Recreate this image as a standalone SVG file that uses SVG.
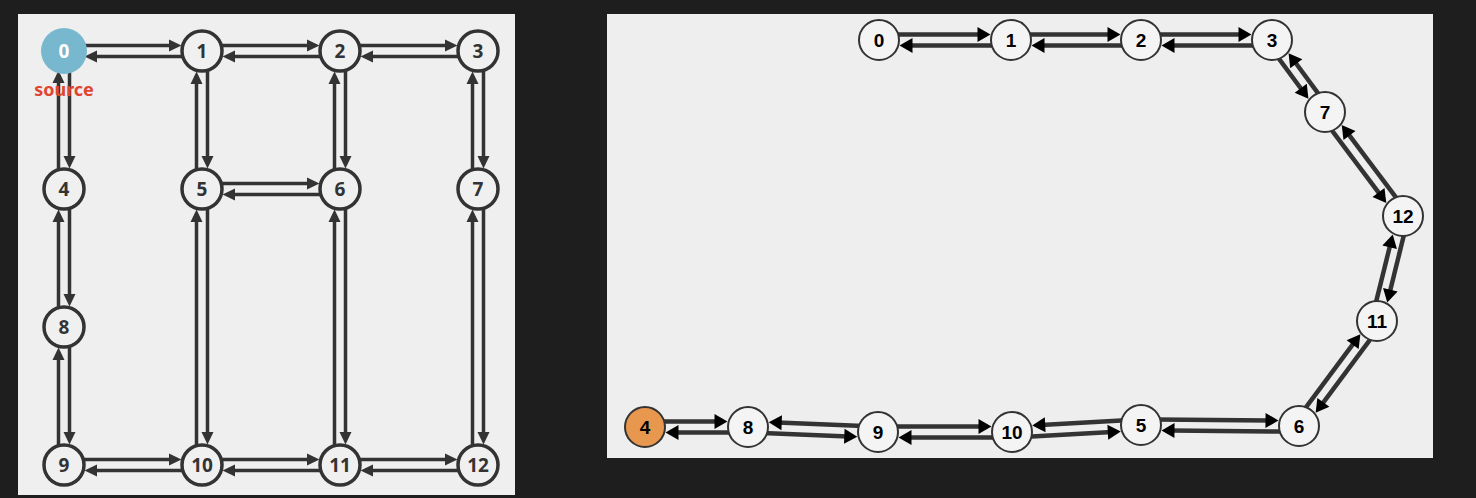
<svg xmlns="http://www.w3.org/2000/svg" width="1476" height="498" viewBox="0 0 1476 498">
<defs>
<marker id="al" markerUnits="userSpaceOnUse" markerWidth="14" markerHeight="12" refX="3" refY="6" orient="auto" overflow="visible"><path d="M0,0 L12.5,6 L0,12 z" fill="#333"/></marker>
<marker id="ar" markerUnits="userSpaceOnUse" markerWidth="15" markerHeight="15" refX="4" refY="7.5" orient="auto" overflow="visible"><path d="M0,0 L13,7.5 L0,15 z" fill="#000"/></marker>
</defs>
<style>
.le{fill:none;stroke:#333;stroke-width:3.5;marker-end:url(#al)}
.re{fill:none;stroke:#333;stroke-width:4.5;marker-end:url(#ar)}
.ln{fill:#f0f0f0;stroke:#333;stroke-width:3.5}
.lt{font-family:"Noto Sans","DejaVu Sans",sans-serif;font-weight:bold;font-size:19px;fill:#333;text-anchor:middle}
.rn{fill:#f4f4f4;stroke:#333;stroke-width:2}
.rt{font-family:"Liberation Sans",Arial,sans-serif;font-weight:bold;font-size:19px;fill:#000;text-anchor:middle}
</style>
<rect width="1476" height="498" fill="#1e1e1e"/>
<rect x="18" y="14" width="497" height="481" fill="#efefef"/>
<rect x="607" y="14" width="826" height="444" fill="#eeeeee"/>
<g id="left-edges">
<path class="le" d="M79,45.5 H172"/><path class="le" d="M187,56.5 H94"/>
<path class="le" d="M217,45.5 H310"/><path class="le" d="M325,56.5 H232"/>
<path class="le" d="M355,45.5 H448"/><path class="le" d="M463,56.5 H370"/>
<path class="le" d="M217,183.5 H310"/><path class="le" d="M325,194.5 H232"/>
<path class="le" d="M79,459.5 H172"/><path class="le" d="M187,470.5 H94"/>
<path class="le" d="M217,459.5 H310"/><path class="le" d="M325,470.5 H232"/>
<path class="le" d="M355,459.5 H448"/><path class="le" d="M463,470.5 H370"/>
<path class="le" d="M69.5,66 V159"/><path class="le" d="M58.5,174 V80"/>
<path class="le" d="M69.5,204 V297"/><path class="le" d="M58.5,312 V219"/>
<path class="le" d="M69.5,342 V435"/><path class="le" d="M58.5,450 V357"/>
<path class="le" d="M207.5,66 V159"/><path class="le" d="M196.5,174 V81"/>
<path class="le" d="M207.5,204 V435"/><path class="le" d="M196.5,450 V219"/>
<path class="le" d="M345.5,66 V159"/><path class="le" d="M334.5,174 V81"/>
<path class="le" d="M345.5,204 V435"/><path class="le" d="M334.5,450 V219"/>
<path class="le" d="M483.5,66 V159"/><path class="le" d="M472.5,174 V81"/>
<path class="le" d="M483.5,204 V435"/><path class="le" d="M472.5,450 V219"/>
</g>
<g id="l0"><circle cx="64" cy="51" r="23" fill="#77b8cf"/><text class="lt" x="64" y="58" style="fill:#fff">0</text><text x="64" y="96" text-anchor="middle" font-family="Noto Sans, DejaVu Sans, sans-serif" font-weight="bold" font-size="18" fill="#e0452f">source</text></g>
<g id="l1"><circle class="ln" cx="202" cy="51" r="20"/><text class="lt" x="202" y="58">1</text></g>
<g id="l2"><circle class="ln" cx="340" cy="51" r="20"/><text class="lt" x="340" y="58">2</text></g>
<g id="l3"><circle class="ln" cx="478" cy="51" r="20"/><text class="lt" x="478" y="58">3</text></g>
<g id="l4"><circle class="ln" cx="64" cy="189" r="20"/><text class="lt" x="64" y="196">4</text></g>
<g id="l5"><circle class="ln" cx="202" cy="189" r="20"/><text class="lt" x="202" y="196">5</text></g>
<g id="l6"><circle class="ln" cx="340" cy="189" r="20"/><text class="lt" x="340" y="196">6</text></g>
<g id="l7"><circle class="ln" cx="478" cy="189" r="20"/><text class="lt" x="478" y="196">7</text></g>
<g id="l8"><circle class="ln" cx="64" cy="327" r="20"/><text class="lt" x="64" y="334">8</text></g>
<g id="l9"><circle class="ln" cx="64" cy="465" r="20"/><text class="lt" x="64" y="472">9</text></g>
<g id="l10"><circle class="ln" cx="202" cy="465" r="20"/><text class="lt" x="202" y="472">10</text></g>
<g id="l11"><circle class="ln" cx="340" cy="465" r="20"/><text class="lt" x="340" y="472">11</text></g>
<g id="l12"><circle class="ln" cx="478" cy="465" r="20"/><text class="lt" x="478" y="472">12</text></g>
<g id="right-edges">
<path class="re" d="M894,34.5 L981.5,34.5"/><path class="re" d="M996,45.5 L908.5,45.5"/>
<path class="re" d="M1026,34.5 L1111.5,34.5"/><path class="re" d="M1126,45.5 L1040.5,45.5"/>
<path class="re" d="M1156,34.5 L1242.5,34.5"/><path class="re" d="M1257,45.5 L1170.5,45.5"/>
<path class="re" d="M1276.5,55.3 L1303.1,91.5"/><path class="re" d="M1320.5,96.7 L1293.9,60.5"/>
<path class="re" d="M1329.6,127.3 L1380.9,195.7"/><path class="re" d="M1398.4,200.7 L1347.1,132.3"/>
<path class="re" d="M1404.7,231.9 L1389.4,293.7"/><path class="re" d="M1375.3,305.1 L1390.6,243.3"/>
<path class="re" d="M1372.5,336.3 L1321,405.6"/><path class="re" d="M1303.5,410.7 L1355,341.4"/>
<path class="re" d="M1156,419.5 L1269.5,420.5"/><path class="re" d="M1284,431.5 L1170.5,430.5"/>
<path class="re" d="M1125.7,420.3 L1041.2,424.9"/><path class="re" d="M1027.3,436.7 L1111.8,432.1"/>
<path class="re" d="M893,426.5 L982.5,426.5"/><path class="re" d="M997,437.5 L907.5,437.5"/>
<path class="re" d="M762.8,433.1 L848.3,436.4"/><path class="re" d="M863.2,425.9 L777.7,422.6"/>
<path class="re" d="M660,421.5 L718.5,421.5"/><path class="re" d="M733,432.5 L674.5,432.5"/>
</g>
<g id="r0"><circle class="rn" cx="879" cy="40" r="20"/><text class="rt" x="879" y="47">0</text></g>
<g id="r1"><circle class="rn" cx="1011" cy="40" r="20"/><text class="rt" x="1011" y="47">1</text></g>
<g id="r2"><circle class="rn" cx="1141" cy="40" r="20"/><text class="rt" x="1141" y="47">2</text></g>
<g id="r3"><circle class="rn" cx="1272" cy="40" r="20"/><text class="rt" x="1272" y="47">3</text></g>
<g id="r7"><circle class="rn" cx="1325" cy="112" r="20"/><text class="rt" x="1325" y="119">7</text></g>
<g id="r12"><circle class="rn" cx="1403" cy="216" r="20"/><text class="rt" x="1403" y="223">12</text></g>
<g id="r11"><circle class="rn" cx="1377" cy="321" r="20"/><text class="rt" x="1377" y="328">11</text></g>
<g id="r6"><circle class="rn" cx="1299" cy="426" r="20"/><text class="rt" x="1299" y="433">6</text></g>
<g id="r5"><circle class="rn" cx="1141" cy="425" r="20"/><text class="rt" x="1141" y="432">5</text></g>
<g id="r10"><circle class="rn" cx="1012" cy="432" r="20"/><text class="rt" x="1012" y="439">10</text></g>
<g id="r9"><circle class="rn" cx="878" cy="432" r="20"/><text class="rt" x="878" y="439">9</text></g>
<g id="r8"><circle class="rn" cx="748" cy="427" r="20"/><text class="rt" x="748" y="434">8</text></g>
<g id="r4"><circle class="rn" cx="645" cy="427" r="20" style="fill:#e8974f"/><text class="rt" x="645" y="434">4</text></g>
</svg>
